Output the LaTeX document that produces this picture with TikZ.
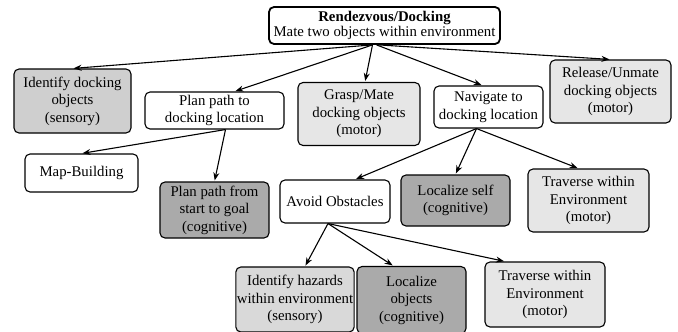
\documentclass[tikz,border=0pt]{standalone}
\usepackage{fontspec}
\setmainfont{Liberation Serif}
\usepackage{xcolor}
\usetikzlibrary{positioning, arrows.meta}

\definecolor{sensorygray}{HTML}{CFCFCF}
\definecolor{motorgray}{HTML}{E6E6E6}
\definecolor{cognitivegray}{HTML}{AAAAAA}

\begin{document}
\begin{tikzpicture}[x=1pt, y=-1pt, >={Stealth[length=8pt,width=6pt]}, shorten >=1pt,
    task/.style={draw, rounded corners=5pt, line width=1.1pt, align=center, inner sep=1pt,
        font=\fontsize{14.8}{17.5}\selectfont},
    plain/.style={task, fill=white},
    sensory/.style={task, fill=sensorygray},
    motor/.style={task, fill=motorgray},
    cognitive/.style={task, fill=cognitivegray}]
                \useasboundingbox (0,0) rectangle (678,332);

                \node[plain, line width=1.8pt, minimum width=231pt, minimum height=37pt] (root) at (384.5,25.5)
                    {\textbf{Rendezvous/Docking}\\[-2pt] Mate two objects within environment};

                \node[sensory, minimum width=117pt, minimum height=64pt] (ident) at (72.5,101) {Identify docking\\ objects\\ (sensory)};
                \node[plain, minimum width=139pt, minimum height=37pt] (plan) at (214.5,110.5) {Plan path to\\ docking location};
                \node[motor, minimum width=122pt, minimum height=63pt] (grasp) at (359,114) {Grasp/Mate\\ docking objects\\ (motor)};
                \node[plain, minimum width=109pt, minimum height=42pt] (nav) at (488.5,107) {Navigate to\\ docking location};
                \node[motor, minimum width=121pt, minimum height=63pt] (release) at (610.5,91.5) {Release/Unmate\\ docking objects\\ (motor)};

                \node[plain, minimum width=113pt, minimum height=38pt] (map) at (81.5,173) {Map-Building};
                \node[cognitive, minimum width=109pt, minimum height=56pt] (goal) at (214.5,210) {Plan path from\\ start to goal\\ (cognitive)};
                \node[plain, minimum width=110pt, minimum height=43pt] (avoid) at (335,201.5) {Avoid Obstacles};
                \node[cognitive, minimum width=109pt, minimum height=51pt] (self) at (455.5,200.5) {Localize self\\ (cognitive)};
                \node[motor, minimum width=121pt, minimum height=63pt] (trav) at (588.5,200.5) {Traverse within\\ Environment\\ (motor)};

                \node[sensory, fill=sensorygray!80, minimum width=116pt, minimum height=65pt] (hazard) at (295,299.5) {Identify hazards\\ within environment\\ (sensory)};
                \node[cognitive, minimum width=109pt, minimum height=67pt] (objloc) at (411.5,300) {Localize\\ objects\\ (cognitive)};
                \node[motor, minimum width=120pt, minimum height=65pt] (travobs) at (545,294.5) {Traverse within\\ Environment\\ (motor)};

                \path[->, line width=1.1pt]
                ([xshift=-12pt]root.south) edge (ident.north)
                ([xshift=-12pt]root.south) edge ([xshift=20pt]plan.north)
                ([xshift=-12pt]root.south) edge ([xshift=6pt]grasp.north)
                ([xshift=-8pt]root.south) edge ([xshift=-6pt]nav.north)
                ([xshift=-6pt]root.south) edge (release.north)
                ([xshift=11pt]plan.south) edge (map.north)
                ([xshift=11pt]plan.south) edge (goal.north)
                ([xshift=-12pt]nav.south) edge ([xshift=20pt]avoid.north)
                ([xshift=-12pt]nav.south) edge (self.north)
                ([xshift=-12pt]nav.south) edge ([xshift=-10pt]trav.north)
                ([xshift=-7pt]avoid.south) edge ([xshift=10pt]hazard.north)
                ([xshift=-7pt]avoid.south) edge ([xshift=-18pt]objloc.north)
                ([xshift=-7pt]avoid.south) edge ([xshift=-40pt]travobs.north);
            \end{tikzpicture}
\end{document}
